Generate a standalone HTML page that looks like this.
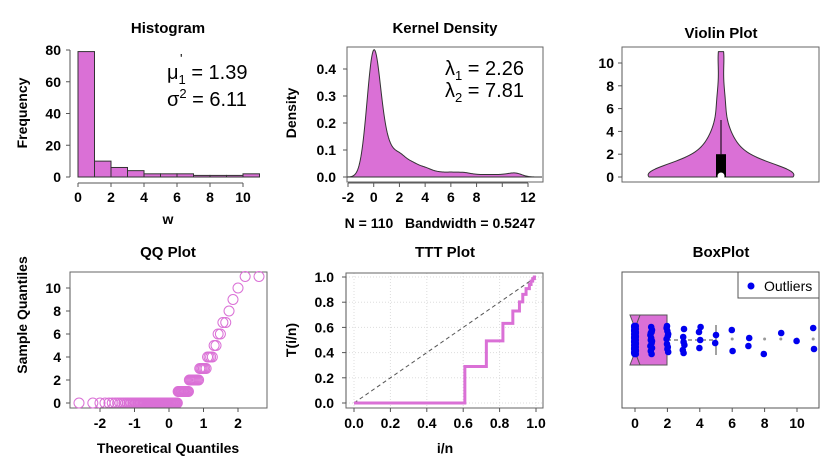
<!DOCTYPE html>
<html><head><meta charset="utf-8"><style>
html,body{margin:0;padding:0;background:#fff}
svg{display:block;font-family:"Liberation Sans",Arial,sans-serif}
.t{font-weight:bold;font-size:15px;text-anchor:middle}
.k{font-weight:bold;font-size:14px}
</style></head><body>
<svg id="c" width="837" height="471" viewBox="0 0 837 471"></svg>
<script>
// data: values and counts
const values = [0,1,2,3,4,5,6,7,8,9,10,11];
const counts = [66,13,10,6,4,2,2,2,1,1,1,2];
const histBreaks = [0,1,2,3,4,5,6,7,8,9,10,11];
const histFreq = [79,10,6,4,2,2,2,1,1,1,2];
const xTicksHist = [0,2,4,6,8,10];
const yTicksHist = [0,20,40,60,80];
const xTicksKde = [-2,0,2,4,6,8,12];
const yTicksKde = [0,0.1,0.2,0.3,0.4];
const yTicksViolin = [0,2,4,6,8,10];
const xTicksQQ = [-2,-1,0,1,2];
const yTicksQQ = [0,2,4,6,8,10];
const ticksTTT = [0,0.2,0.4,0.6,0.8,1.0];
const xTicksBox = [0,2,4,6,8,10];
const bandwidth = 0.5247;

const PINK = "#da70d6";
const NS = "http://www.w3.org/2000/svg";
const svg = document.getElementById('c');
function el(tag, attrs, parent, name, inter) {
  const e = document.createElementNS(NS, tag);
  for (const k in attrs) e.setAttribute(k, attrs[k]);
  
  
  (parent || svg).appendChild(e);
  return e;
}
function txt(x, y, s, cls, anchor, name, extra) {
  const t = el('text', Object.assign({x: x, y: y, class: cls, 'text-anchor': anchor || 'middle'}, extra || {}), svg, name, false);
  t.textContent = s;
  return t;
}
const lin = (d0, d1, r0, r1) => v => r0 + (v - d0) * (r1 - r0) / (d1 - d0);

const data = [];
values.forEach((v, i) => { for (let j = 0; j < counts[i]; j++) data.push(v); });
const n = data.length;
function kde(x, h) { let s = 0; for (const d of data) { const z = (x - d) / h; s += Math.exp(-z * z / 2); } return s / (n * h * Math.sqrt(2 * Math.PI)); }

// ========== Histogram ==========
{
  const X = lin(0, 10, 78, 243), Y = lin(0, 80, 177, 50);
  txt(168, 33, 'Histogram', 't', 'middle', 'histogram-title');
  histFreq.forEach((f, i) => {
    el('rect', {x: X(histBreaks[i]), y: Y(f), width: X(histBreaks[i + 1]) - X(histBreaks[i]), height: Y(0) - Y(f), fill: PINK, stroke: '#333', 'stroke-width': 1}, svg, 'hist-bar', false);
  });
  el('line', {x1: 70, y1: Y(0), x2: 70, y2: Y(80), stroke: '#555'}, svg, 'hist-y-axis', false);
  yTicksHist.forEach(v => { el('line', {x1: 66, y1: Y(v), x2: 70, y2: Y(v), stroke: '#555'}, svg, 'hist-y-tick', false); txt(61, Y(v) + 5, v, 'k', 'end', 'hist-y-tick-label'); });
  el('line', {x1: X(0), y1: 183, x2: X(10), y2: 183, stroke: '#555'}, svg, 'hist-x-axis', false);
  xTicksHist.forEach(v => { el('line', {x1: X(v), y1: 183, x2: X(v), y2: 187, stroke: '#555'}, svg, 'hist-x-tick', false); txt(X(v), 202, v, 'k', 'middle', 'hist-x-tick-label'); });
  txt(168, 224, 'w', 'k', 'middle', 'hist-x-title');
  txt(27, 113, 'Frequency', 'k', 'middle', 'hist-y-title', {transform: 'rotate(-90 27 113)'});
  const s1 = txt(167, 79, '', '', 'start', 'mean-stat', {'font-size': '20'});
  s1.innerHTML = 'μ<tspan font-size="13" dy="5">1</tspan><tspan dy="-5"> = 1.39</tspan>';
  txt(180, 63, "'", '', 'start', 'mean-prime', {'font-size': '13'});
  const s2 = txt(167, 106, '', '', 'start', 'variance-stat', {'font-size': '20'});
  s2.innerHTML = 'σ<tspan font-size="13" dy="-8">2</tspan><tspan dy="8"> = 6.11</tspan>';
}

// ========== Kernel density ==========
{
  const X = lin(-2, 12, 348, 528), Y = lin(0, 0.4, 177, 69);
  txt(445, 33, 'Kernel Density', 't', 'middle', 'kde-title');
  el('rect', {x: 347, y: 47, width: 196, height: 135, fill: 'none', stroke: '#666'}, svg, 'kde-frame', false);
  el('line', {x1: 347, y1: Y(0), x2: 543, y2: Y(0), stroke: '#bbb'}, svg, 'kde-zero-line', false);
  let d = 'M' + X(-2.1) + ',' + Y(0);
  for (let x = -2.1; x <= 13.1; x += 0.05) d += 'L' + X(x).toFixed(2) + ',' + Y(kde(x, bandwidth)).toFixed(2);
  d += 'L' + X(13.1) + ',' + Y(0) + 'Z';
  el('path', {d: d, fill: PINK, stroke: '#333', 'stroke-width': 1}, svg, 'kde-curve', false);
  el('line', {x1: 347, y1: 177, x2: 347, y2: 69, stroke: '#555'}, svg, 'kde-y-axis', false);
  yTicksKde.forEach(v => { el('line', {x1: 343, y1: Y(v), x2: 347, y2: Y(v), stroke: '#555'}, svg, 'kde-y-tick', false); txt(336, Y(v) + 5, v.toFixed(1), 'k', 'end', 'kde-y-tick-label'); });
  el('line', {x1: X(-2), y1: 183, x2: X(12), y2: 183, stroke: '#555'}, svg, 'kde-x-axis', false);
  [-2,0,2,4,6,8,10,12].forEach(v => el('line', {x1: X(v), y1: 183, x2: X(v), y2: 187, stroke: '#555'}, svg, 'kde-x-tick', false));
  xTicksKde.forEach(v => txt(X(v), 202, v, 'k', 'middle', 'kde-x-tick-label'));
  txt(440, 228, 'N = 110\u00a0\u00a0\u00a0Bandwidth = 0.5247', 'k', 'middle', 'kde-x-title');
  txt(296, 113, 'Density', 'k', 'middle', 'kde-y-title', {transform: 'rotate(-90 296 113)'});
  const l1 = txt(445, 75, '', '', 'start', 'lambda1-stat', {'font-size': '20'});
  l1.innerHTML = 'λ<tspan font-size="13" dy="5">1</tspan><tspan dy="-5"> = 2.26</tspan>';
  const l2 = txt(445, 97, '', '', 'start', 'lambda2-stat', {'font-size': '20'});
  l2.innerHTML = 'λ<tspan font-size="13" dy="5">2</tspan><tspan dy="-5"> = 7.81</tspan>';
}

// ========== Violin ==========
{
  const Y = lin(0, 10, 177, 63), cx = 721;
  txt(721, 38, 'Violin Plot', 't', 'middle', 'violin-title');
  el('rect', {x: 622, y: 47, width: 197, height: 135, fill: 'none', stroke: '#666'}, svg, 'violin-frame', false);
  const d0 = kde(0, 1), W = 72;
  let pts = [];
  for (let y = 0; y <= 11.0001; y += 0.1) pts.push([y, kde(y, 1) / d0 * W]);
  let d = '';
  pts.forEach((p, i) => d += (i ? 'L' : 'M') + (cx + p[1]).toFixed(2) + ',' + Y(p[0]).toFixed(2));
  for (let i = pts.length - 1; i >= 0; i--) d += 'L' + (cx - pts[i][1]).toFixed(2) + ',' + Y(pts[i][0]).toFixed(2);
  d += 'Z';
  el('path', {d: d, fill: PINK, stroke: '#333', 'stroke-width': 1, 'stroke-linejoin': 'round'}, svg, 'violin-shape', false);
  el('line', {x1: cx, y1: Y(2), x2: cx, y2: Y(5), stroke: '#000'}, svg, 'violin-whisker', false);
  el('rect', {x: cx - 5, y: Y(2), width: 10, height: Y(0) - Y(2), fill: '#000'}, svg, 'violin-iqr-box', false);
  el('circle', {cx: cx, cy: Y(0) - 1, r: 3.5, fill: '#fff'}, svg, 'violin-median', false);
  el('line', {x1: 622, y1: Y(0), x2: 622, y2: Y(10), stroke: '#555'}, svg, 'violin-y-axis', false);
  yTicksViolin.forEach(v => { el('line', {x1: 618, y1: Y(v), x2: 622, y2: Y(v), stroke: '#555'}, svg, 'violin-y-tick', false); txt(614, Y(v) + 5, v, 'k', 'end', 'violin-y-tick-label'); });
}

// ========== QQ ==========
{
  const X = lin(0, 2, 169, 238), Y = lin(0, 10, 403, 288);
  txt(168, 257, 'QQ Plot', 't', 'middle', 'qq-title');
  el('rect', {x: 70, y: 272, width: 197, height: 136, fill: 'none', stroke: '#666'}, svg, 'qq-frame', false);
  function qnorm(p) {
    const a=[-39.69683028665376,220.9460984245205,-275.9285104469687,138.357751867269,-30.66479806614716,2.506628277459239],
      b=[-54.47609879822406,161.5858368580409,-155.6989798598866,66.80131188771972,-13.28068155288572],
      c=[-0.007784894002430293,-0.3223964580411365,-2.400758277161838,-2.549732539343734,4.374664141464968,2.938163982698783],
      dd=[0.007784695709041462,0.3224671290700398,2.445134137142996,3.754408661907416];
    let q,r;
    if (p < 0.02425) { q = Math.sqrt(-2*Math.log(p)); return (((((c[0]*q+c[1])*q+c[2])*q+c[3])*q+c[4])*q+c[5])/((((dd[0]*q+dd[1])*q+dd[2])*q+dd[3])*q+1); }
    if (p > 1-0.02425) { q = Math.sqrt(-2*Math.log(1-p)); return -(((((c[0]*q+c[1])*q+c[2])*q+c[3])*q+c[4])*q+c[5])/((((dd[0]*q+dd[1])*q+dd[2])*q+dd[3])*q+1); }
    q = p-0.5; r = q*q;
    return (((((a[0]*r+a[1])*r+a[2])*r+a[3])*r+a[4])*r+a[5])*q/(((((b[0]*r+b[1])*r+b[2])*r+b[3])*r+b[4])*r+1);
  }
  data.forEach((v, i) => {
    const p = (i + 1 - 0.5) / n;
    el('circle', {cx: X(qnorm(p)), cy: Y(v), r: 5, fill: 'none', stroke: PINK, 'stroke-width': 1}, svg, 'qq-point', false);
  });
  el('line', {x1: 70, y1: Y(0), x2: 70, y2: Y(10), stroke: '#555'}, svg, 'qq-y-axis', false);
  yTicksQQ.forEach(v => { el('line', {x1: 66, y1: Y(v), x2: 70, y2: Y(v), stroke: '#555'}, svg, 'qq-y-tick', false); txt(61, Y(v) + 5, v, 'k', 'end', 'qq-y-tick-label'); });
  el('line', {x1: X(-2), y1: 408, x2: X(2), y2: 408, stroke: '#555'}, svg, 'qq-x-axis', false);
  xTicksQQ.forEach(v => { el('line', {x1: X(v), y1: 408, x2: X(v), y2: 412, stroke: '#555'}, svg, 'qq-x-tick', false); txt(X(v), 428, v, 'k', 'middle', 'qq-x-tick-label'); });
  txt(168, 453, 'Theoretical Quantiles', 'k', 'middle', 'qq-x-title');
  txt(27, 315, 'Sample Quantiles', 'k', 'middle', 'qq-y-title', {transform: 'rotate(-90 27 315)'});
}

// ========== TTT ==========
{
  const X = lin(0, 1, 354, 536), Y = lin(0, 1, 403, 277);
  txt(445, 257, 'TTT Plot', 't', 'middle', 'ttt-title');
  ticksTTT.forEach(v => {
    el('line', {x1: X(v), y1: 273, x2: X(v), y2: 408, stroke: '#ddd', 'stroke-dasharray': '1,2'}, svg, 'ttt-grid-v', false);
    el('line', {x1: 346, y1: Y(v), x2: 543, y2: Y(v), stroke: '#ddd', 'stroke-dasharray': '1,2'}, svg, 'ttt-grid-h', false);
  });
  el('rect', {x: 346, y: 273, width: 197, height: 135, fill: 'none', stroke: '#666'}, svg, 'ttt-frame', false);
  el('line', {x1: X(0), y1: Y(0), x2: X(1), y2: Y(1), stroke: '#555', 'stroke-dasharray': '4,3'}, svg, 'ttt-diagonal', false);
  const total = data.reduce((a, b) => a + b, 0);
  let cum = 0, sd = 'M' + X(0) + ',' + Y(0), prevT = 0;
  data.forEach((v, i) => {
    cum += v;
    const T = (cum + (n - i - 1) * v) / total;
    sd += 'L' + X((i + 1) / n).toFixed(2) + ',' + Y(prevT).toFixed(2) + 'L' + X((i + 1) / n).toFixed(2) + ',' + Y(T).toFixed(2);
    prevT = T;
  });
  el('path', {d: sd, fill: 'none', stroke: PINK, 'stroke-width': 3}, svg, 'ttt-curve', false);
  el('line', {x1: 346, y1: Y(0), x2: 346, y2: Y(1), stroke: '#555'}, svg, 'ttt-y-axis', false);
  ticksTTT.forEach(v => {
    el('line', {x1: 342, y1: Y(v), x2: 346, y2: Y(v), stroke: '#555'}, svg, 'ttt-y-tick', false);
    txt(334, Y(v) + 5, v.toFixed(1), 'k', 'end', 'ttt-y-tick-label');
    el('line', {x1: X(v), y1: 408, x2: X(v), y2: 412, stroke: '#555'}, svg, 'ttt-x-tick', false);
    txt(X(v), 428, v.toFixed(1), 'k', 'middle', 'ttt-x-tick-label');
  });
  txt(445, 453, 'i/n', 'k', 'middle', 'ttt-x-title');
  txt(296, 340, 'T(i/n)', 'k', 'middle', 'ttt-y-title', {transform: 'rotate(-90 296 340)'});
}

// ========== BoxPlot ==========
{
  const X = lin(0, 10, 635, 797), cy = 340;
  txt(721, 257, 'BoxPlot', 't', 'middle', 'boxplot-title');
  el('rect', {x: 622, y: 272, width: 197, height: 136, fill: 'none', stroke: '#555'}, svg, 'boxplot-frame', false);
  el('polygon', {points: '640,315 667,315 667,365 640,365 635,352 635,328', fill: PINK, stroke: '#555'}, svg, 'boxplot-box', false);
  el('polygon', {points: '630,315 640,315 635,328', fill: PINK, stroke: '#555'}, svg, 'boxplot-notch-top', false);
  el('polygon', {points: '630,365 640,365 635,352', fill: PINK, stroke: '#555'}, svg, 'boxplot-notch-bottom', false);
  el('line', {x1: 667, y1: cy, x2: X(5), y2: cy, stroke: '#444', 'stroke-dasharray': '4,3'}, svg, 'boxplot-whisker', false);
  el('line', {x1: X(5), y1: 325, x2: X(5), y2: 355, stroke: '#444'}, svg, 'boxplot-whisker-cap', false);
  [6,8,9,10,11].forEach(v => el('circle', {cx: X(v), cy: cy - 1, r: 1.5, fill: '#999'}, svg, 'boxplot-outlier', false));
  data.forEach((v, i) => {
    const j = ((i * 37) % 29) / 28 - 0.5;
    el('circle', {cx: X(v) + ((i * 13) % 5 - 2) * 0.4, cy: cy + j * 28, r: 3.3, fill: '#0000ee'}, svg, 'boxplot-point', false);
  });
  el('line', {x1: X(0), y1: 408, x2: X(10), y2: 408, stroke: '#555'}, svg, 'boxplot-x-axis', false);
  [0,2,4,6,8,10].forEach(v => el('line', {x1: X(v), y1: 408, x2: X(v), y2: 412, stroke: '#555'}, svg, 'boxplot-x-tick', false));
  xTicksBox.forEach(v => txt(X(v), 428, v, 'k', 'middle', 'boxplot-x-tick-label'));
  el('rect', {x: 738, y: 272, width: 81, height: 26, fill: '#fff', stroke: '#555'}, svg, 'boxplot-legend', false);
  el('circle', {cx: 751, cy: 286, r: 3.5, fill: '#0000ee'}, svg, 'legend-marker', false);
  txt(764, 291, 'Outliers', '', 'start', 'legend-label', {'font-size': '14'});
}
</script>
</body></html>
